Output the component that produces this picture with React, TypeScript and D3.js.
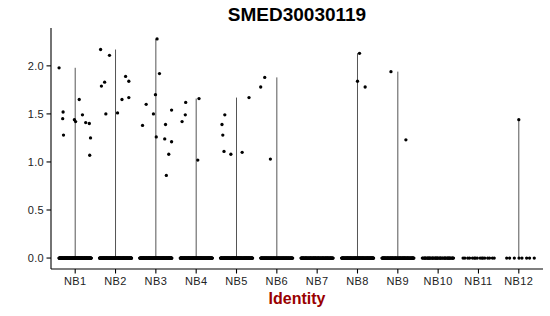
import React from "react";
import * as d3 from "d3";

// ---- data ----
const categories = ["NB1", "NB2", "NB3", "NB4", "NB5", "NB6", "NB7", "NB8", "NB9", "NB10", "NB11", "NB12"];

// non-zero expression values per identity
const nbValues: number[][] = [
  [1.98, 1.52, 1.45, 1.28, 1.44, 1.42, 1.65, 1.49, 1.41, 1.40, 1.25, 1.07],
  [2.17, 2.11, 1.79, 1.83, 1.50, 1.51, 1.65, 1.89, 1.84, 1.67],
  [1.60, 1.38, 2.28, 1.92, 1.70, 1.50, 1.26, 1.39, 1.24, 1.54, 1.21, 1.08, 0.86],
  [1.62, 1.49, 1.42, 1.66, 1.02],
  [1.49, 1.39, 1.28, 1.11, 1.08, 1.10, 1.67],
  [1.78, 1.88, 1.03],
  [],
  [2.13, 1.84, 1.78],
  [1.94, 1.23],
  [],
  [],
  [1.44],
];
// horizontal jitter of those points (fraction of a category step)
const nbJitter: number[][] = [
  [-0.40, -0.30, -0.31, -0.29, -0.02, 0.01, 0.10, 0.18, 0.26, 0.35, 0.38, 0.36],
  [-0.37, -0.15, -0.35, -0.27, -0.24, 0.05, 0.16, 0.25, 0.33, 0.33],
  [-0.24, -0.33, 0.03, 0.09, -0.01, -0.06, 0.01, 0.24, 0.22, 0.39, 0.39, 0.32, 0.26],
  [-0.26, -0.27, -0.35, 0.07, 0.04],
  [-0.29, -0.36, -0.34, -0.31, -0.14, 0.14, 0.31],
  [-0.40, -0.30, -0.16],
  [],
  [0.05, 0.0, 0.19],
  [-0.17, 0.20],
  [],
  [],
  [0.0],
];
// number of cells with zero expression per identity (estimated)
const zeroCounts = [160, 150, 160, 150, 140, 110, 100, 120, 100, 45, 16, 8];

const yTicks = [0, 0.5, 1.0, 1.5, 2.0];
const title = "SMED30030119";
const xTitle = "Identity";

export default function App() {
  const W = 550, H = 316;
  const left = 51, right = 543, top = 28, bottom = 269;

  const allVals = nbValues.flat().concat([0]);
  const vMin = d3.min(allVals)!;
  const vMax = d3.max(allVals)!;
  const pad = (vMax - vMin) * 0.05;

  const x = d3.scalePoint<string>().domain(categories).range([left, right]).padding(0.6);
  const step = x.step();
  const y = d3.scaleLinear().domain([vMin - pad, vMax + pad]).range([bottom, top]);

  const pts: { cx: number; cy: number; key: string }[] = [];
  categories.forEach((c, ci) => {
    const cx0 = x(c)!;
    for (let i = 0; i < zeroCounts[ci]; i++) {
      const j = ((i * 0.6180339887 + ci * 0.137) % 1) * 0.8 - 0.4;
      pts.push({ cx: cx0 + j * step, cy: y(0), key: `z${ci}-${i}` });
    }
    nbValues[ci].forEach((v, i) => {
      pts.push({ cx: cx0 + nbJitter[ci][i] * step, cy: y(v), key: `v${ci}-${i}` });
    });
  });

  const font = "'Liberation Sans', Arial, Helvetica, sans-serif";

  return (
    <svg width={W} height={H} style={{ position: "absolute", left: 0, top: 0 }} fontFamily={font}>
      <rect width={W} height={H} fill="#fff" />
      {/* violins (degenerate to lines) */}
      {categories.map((c, ci) => {
        const vals = nbValues[ci];
        if (!vals.length) return null;
        const mx = d3.max(vals)!;
        return (
          <line key={c} x1={x(c)} x2={x(c)} y1={y(0)} y2={y(mx)} stroke="#555" strokeWidth={1} />
        );
      })}
      {/* points */}
      {pts.map((p) => (
        <circle key={p.key} cx={p.cx} cy={p.cy} r={1.65} fill="#000" />
      ))}
      {/* axes */}
      <line x1={left} x2={left} y1={top} y2={bottom} stroke="#000" strokeWidth={1.1} />
      <line x1={left} x2={right} y1={bottom} y2={bottom} stroke="#000" strokeWidth={1.1} />
      {yTicks.map((t) => (
        <g key={t}>
          <line x1={left - 4.5} x2={left} y1={y(t)} y2={y(t)} stroke="#000" strokeWidth={1.1} />
          <text x={left - 7} y={y(t)} dy="0.36em" textAnchor="end" fontSize={11} fill="#222" letterSpacing={0.3}>
            {t.toFixed(1)}
          </text>
        </g>
      ))}
      {categories.map((c) => (
        <g key={c}>
          <line x1={x(c)} x2={x(c)} y1={bottom} y2={bottom + 4.5} stroke="#000" strokeWidth={1.1} />
          <text x={x(c)} y={bottom + 16} textAnchor="middle" fontSize={11} fill="#222" letterSpacing={0.4}>
            {c}
          </text>
        </g>
      ))}
      <text x={(left + right) / 2} y={21} textAnchor="middle" fontSize={19} fontWeight="bold" fill="#000">
        {title}
      </text>
      <text x={(left + right) / 2} y={304} textAnchor="middle" fontSize={16} fontWeight="bold" fill="#990000">
        {xTitle}
      </text>
    </svg>
  );
}
